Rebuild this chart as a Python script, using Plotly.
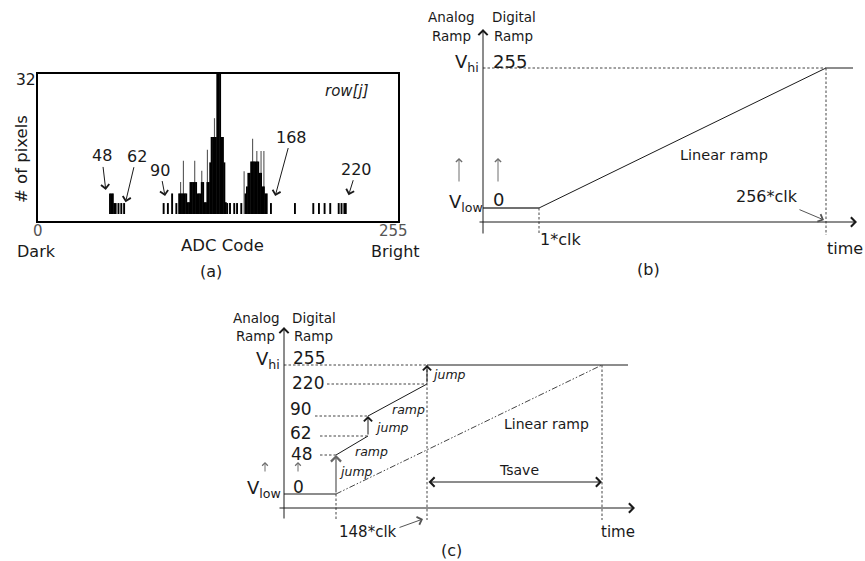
import plotly.graph_objects as go

W, H = 865, 561
FONT = "DejaVu Sans"
INK = "#1a1a1a"
GREY = "#6e6e6e"
DASH = "2.5px,2px"
DASHDOT = "6px,2px,1.5px,2px,1.5px,2px"

# ---------------- (a) histogram of ADC codes in row[j] ----------------
dark_codes = [51, 52, 53, 54, 55, 57, 59, 61]
dark_counts = [4.7, 4.7, 4.7, 2.5, 2.5, 2.5, 2.5, 2.5]

mid_codes = [89, 92, 95, 98,
             100, 101, 102, 103, 104, 105, 106, 107, 108, 109, 110, 111,
             112, 113, 114, 115, 116, 117, 118, 119, 120, 121, 122, 123,
             124, 125, 126, 127, 128, 129, 130, 131, 132, 133,
             134, 136, 139, 141]
mid_counts = [2.5, 2.5, 4.7, 2.5,
              4.7, 4.7, 4.7, 4.7, 4.7, 4.7, 2.7, 2.7, 7.3, 7.3, 7.3, 7.3,
              7.3, 4.7, 4.7, 4.7, 7.3, 7.3, 2.7, 2.7, 7.3, 7.3, 11.8, 17.6,
              17.6, 17.6, 17.6, 33, 33, 33, 17.6, 17.6, 11.8, 2.7,
              2.5, 2.5, 2.5, 2.5]

bright_codes = [144, 147, 148, 149, 150, 151, 152, 153, 154, 155, 156, 157,
                158, 159, 160, 161, 162, 165,
                182, 195, 199, 203, 207, 213, 215, 217, 218]
bright_counts = [2.5, 4.7, 6.3, 9.4, 9.4, 12, 12, 12, 12, 12, 12, 9.4,
                 9.4, 6.3, 6.3, 4.7, 4.7, 2.5,
                 2.5, 2.5, 2.5, 2.5, 2.5, 2.5, 2.5, 2.5, 2.5]

spike_codes = [101, 103, 111, 116, 120, 125, 146, 152, 155, 158, 160]
spike_counts = [7.3, 12.2, 12.2, 9.9, 14.7, 21.9, 9.8, 17.2, 14.4, 14.4, 14.4]

label_codes = [48, 62, 90, 168, 220]
label_tip_counts = [5.5, 2.7, 4.1, 4.1, 4.3]
mid_marker_code = [128]

# ---------------- (b) linear ramp (schematic units) ----------------
b_ramp_t = [0, 56, 343, 370]      # axis origin, 1*clk, 256*clk, end
b_ramp_v = [14, 14, 154, 154]     # V_low / V_hi heights

# ---------------- (c) adaptive ramp (schematic units) ----------------
c_level_names = ["0", "48", "62", "90", "220", "255"]
c_level_v = [14, 53, 72, 92, 124, 143]
c_jump_t = [52, 84, 143]          # jump instants
c_end_t = 344
c_linear_end_t = 318              # end of plain linear ramp (256*clk)

fig = go.Figure()

# histogram
fig.add_trace(go.Bar(x=spike_codes, y=spike_counts, width=0.8,
                     marker=dict(color="#5a5a5a", line=dict(width=0)),
                     xaxis="x", yaxis="y", hoverinfo="skip", showlegend=False))
for cx, cy in [(dark_codes, dark_counts), (mid_codes, mid_counts), (bright_codes, bright_counts)]:
    fig.add_trace(go.Bar(x=cx, y=cy, width=1.35,
                         marker=dict(color="black", line=dict(width=0)),
                         xaxis="x", yaxis="y", hoverinfo="skip", showlegend=False))
fig.add_trace(go.Scatter(x=mid_marker_code, y=[-3.0], mode="markers",
                         marker=dict(symbol="triangle-up", size=13, color="#8a8a8a"),
                         cliponaxis=False, xaxis="x", yaxis="y",
                         hoverinfo="skip", showlegend=False))

annotations = []


def px(x):
    return x / W


def py(y):
    return 1 - y / H


def text(x, y, s, size, color=INK, xanchor="center", yanchor="middle", angle=0):
    annotations.append(dict(x=px(x), y=py(y), xref="paper", yref="paper", text=s,
                            showarrow=False, textangle=angle,
                            font=dict(family=FONT, size=size, color=color),
                            xanchor=xanchor, yanchor=yanchor))


def parrow(tip, tail, color=INK, width=1, size=1.6, side="end"):
    annotations.append(dict(x=px(tip[0]), y=py(tip[1]), xref="paper", yref="paper",
                            ax=tail[0] - tip[0], ay=tail[1] - tip[1],
                            axref="pixel", ayref="pixel", text="", showarrow=True,
                            arrowhead=4, arrowsize=size, arrowwidth=width,
                            arrowcolor=color, arrowside=side, startarrowhead=4,
                            startarrowsize=size))


def darrow(ax_id, tip, tail, color=INK, width=1, size=1.8, side="end"):
    annotations.append(dict(x=tip[0], y=tip[1], xref="x" + ax_id, yref="y" + ax_id,
                            ax=tail[0], ay=tail[1], axref="x" + ax_id, ayref="y" + ax_id,
                            text="", showarrow=True, arrowhead=4, arrowsize=size,
                            arrowwidth=width, arrowcolor=color, arrowside=side,
                            startarrowhead=4, startarrowsize=size))


def line(ax_id, xs, ys, color=INK, width=1, dash="solid"):
    fig.add_trace(go.Scatter(x=xs, y=ys, mode="lines",
                             line=dict(color=color, width=width, dash=dash),
                             xaxis="x" + ax_id, yaxis="y" + ax_id,
                             hoverinfo="skip", showlegend=False))


# ---- (a) texts / arrows
label_text_offsets = [(-4, -34), (11, -46), (-5, -26), (16, -59), (8, -26)]
for code, cnt, (dx, dy) in zip(label_codes, label_tip_counts, label_text_offsets):
    annotations.append(dict(x=code, y=cnt, xref="x", yref="y", text=str(code),
                            ax=dx, ay=dy, showarrow=True, arrowhead=4, arrowsize=1.6,
                            arrowwidth=1, arrowcolor=INK,
                            font=dict(family=FONT, size=16, color=INK)))
text(26, 80, "32", 15.5)
text(37.5, 231, "0", 15, color="#555555")
text(393, 231, "255", 15, color="#555555")
text(36.5, 251, "Dark", 16)
text(222.5, 245, "ADC Code", 16.5)
text(395, 251, "Bright", 16)
text(211, 271, "(a)", 16)
text(21, 159, "# of pixels", 16.5, angle=-90)
text(347, 91, "<i>row[j]</i>", 15)

# ---- (b)
line("2", b_ramp_t, b_ramp_v, color=INK)
line("2", [b_ramp_t[0], b_ramp_t[1]], [b_ramp_v[0], b_ramp_v[1]], color="#555555")
line("2", [b_ramp_t[0], b_ramp_t[2]], [b_ramp_v[2], b_ramp_v[2]], color="#444444", dash=DASH)
line("2", [b_ramp_t[2], b_ramp_t[2]], [b_ramp_v[2], -13], color="#444444", dash=DASH)
line("2", [b_ramp_t[1], b_ramp_t[1]], [b_ramp_v[1], -11], color="#444444", dash=DASH)
darrow("2", (0, 193), (0, -13))
darrow("2", (374, 0), (-5, 0))
darrow("2", (-24, 64), (-24, 39), color=GREY, size=1.2)
darrow("2", (15, 64), (15, 39), color=GREY, size=1.2)

text(451.5, 17, "Analog", 13.5)
text(452, 36, "Ramp", 13.5)
text(514, 17, "Digital", 13.5)
text(513, 36, "Ramp", 13.5)
text(481, 63, "V<sub>hi</sub>", 18, xanchor="right")
text(509.5, 61.5, "255", 18)
text(485, 203, "V<sub>low</sub>", 18, xanchor="right")
text(498, 200, "0", 18)
text(724, 155, "Linear ramp", 14.5)
text(766.5, 196, "256*clk", 16)
parrow((824, 220), (798, 209), color="#555555")
text(560, 239, "1*clk", 16)
text(845, 248, "time", 16)
text(648, 270, "(b)", 16)

# ---- (c)
j1, j2, j3 = c_jump_t
v0, v48, v62, v90, v220, v255 = c_level_v
line("3", [0, j1], [v0, v0], color="#666666", width=1.3)
line("3", [j1, j2], [v48, v62], color=INK)
line("3", [j2, j3], [v90, v220], color=INK)
line("3", [j3, c_end_t], [v255, v255], color=INK)
line("3", [j1, c_linear_end_t], [v0, v255], color="#444444", dash=DASHDOT)
darrow("3", (j1, v48), (j1, v0), color="#666666", width=1.3, size=1.5)
darrow("3", (j2, v90), (j2, v62), color=INK, size=1.6)
darrow("3", (j3, v255), (j3, v220), color=INK, size=1.6)
# guides
line("3", [0, j3], [v255, v255], color="#444444", dash=DASH)
line("3", [43, j3], [v220, v220], color="#444444", dash=DASH)
line("3", [31, j2], [v90, v90], color="#444444", dash=DASH)
line("3", [36, j2], [v62, v62], color="#444444", dash=DASH)
line("3", [36, j1], [v48, v48], color="#444444", dash=DASH)
line("3", [j1, j1], [v0, -12], color="#444444", dash=DASH)
line("3", [j3, j3], [v255, -12], color="#444444", dash=DASH)
line("3", [c_linear_end_t, c_linear_end_t], [v255, -12], color="#444444", dash=DASH)
darrow("3", (c_linear_end_t, 26), (j3, 26), side="end+start")
darrow("3", (0, 181), (0, -12))
darrow("3", (351, 0), (-6, 0))
darrow("3", (-19, 46), (-19, 35), color=GREY, size=1.1)
darrow("3", (14, 46), (14, 35), color=GREY, size=1.1)

text(256.5, 318, "Analog", 13.5)
text(255, 336, "Ramp", 13.5)
text(314, 318, "Digital", 13.5)
text(313.5, 336, "Ramp", 13.5)
text(282, 360, "V<sub>hi</sub>", 18, xanchor="right")
text(283, 489, "V<sub>low</sub>", 18, xanchor="right")
level_label_pos = [(298.5, 487), (302, 454), (301, 433), (301, 409), (307.5, 382.5), (308.5, 357.5)]
for name, (lx, ly) in zip(c_level_names, level_label_pos):
    text(lx, ly, name, 17)
text(448.5, 374, "<i>jump</i>", 12.5)
text(392, 427, "<i>jump</i>", 12.5)
text(356, 471, "<i>jump</i>", 12.5)
text(408, 409, "<i>ramp</i>", 12.5)
text(371, 451, "<i>ramp</i>", 12.5)
text(546, 424, "Linear ramp", 14)
text(519, 469.5, "Tsave", 14)
text(367.5, 531.5, "148*clk", 15)
parrow((423, 519), (398, 528), color="#555555")
text(617.5, 531.5, "time", 15)
text(451.5, 550, "(c)", 16)

hidden = dict(visible=False, fixedrange=True)
fig.update_layout(
    width=W, height=H, margin=dict(l=0, r=0, t=0, b=0),
    paper_bgcolor="white", plot_bgcolor="rgba(0,0,0,0)",
    barmode="overlay", showlegend=False,
    xaxis=dict(domain=[38 / W, 398 / W], range=[0, 255], showline=True, mirror=True,
               linewidth=2, linecolor="black", showticklabels=False, ticks="",
               showgrid=False, zeroline=False, fixedrange=True),
    yaxis=dict(domain=[1 - 221 / H, 1 - 74 / H], range=[-1.6, 32], showline=True,
               mirror=True, linewidth=2, linecolor="black", showticklabels=False,
               ticks="", showgrid=False, zeroline=False, fixedrange=True),
    xaxis2=dict(domain=[420 / W, 1], range=[-63, 382], anchor="y2", **hidden),
    yaxis2=dict(domain=[1 - 290 / H, 1], range=[-68, 222], anchor="x2", **hidden),
    xaxis3=dict(domain=[220 / W, 680 / W], range=[-64, 396], anchor="y3", **hidden),
    yaxis3=dict(domain=[0, 1 - 290 / H], range=[-53, 218], anchor="x3", **hidden),
    annotations=annotations,
)

fig.write_html(
    "out.html",
    config={"displayModeBar": False, "staticPlot": True},
    post_script="document.body.style.margin='0px';document.body.style.overflow='hidden';",
)
